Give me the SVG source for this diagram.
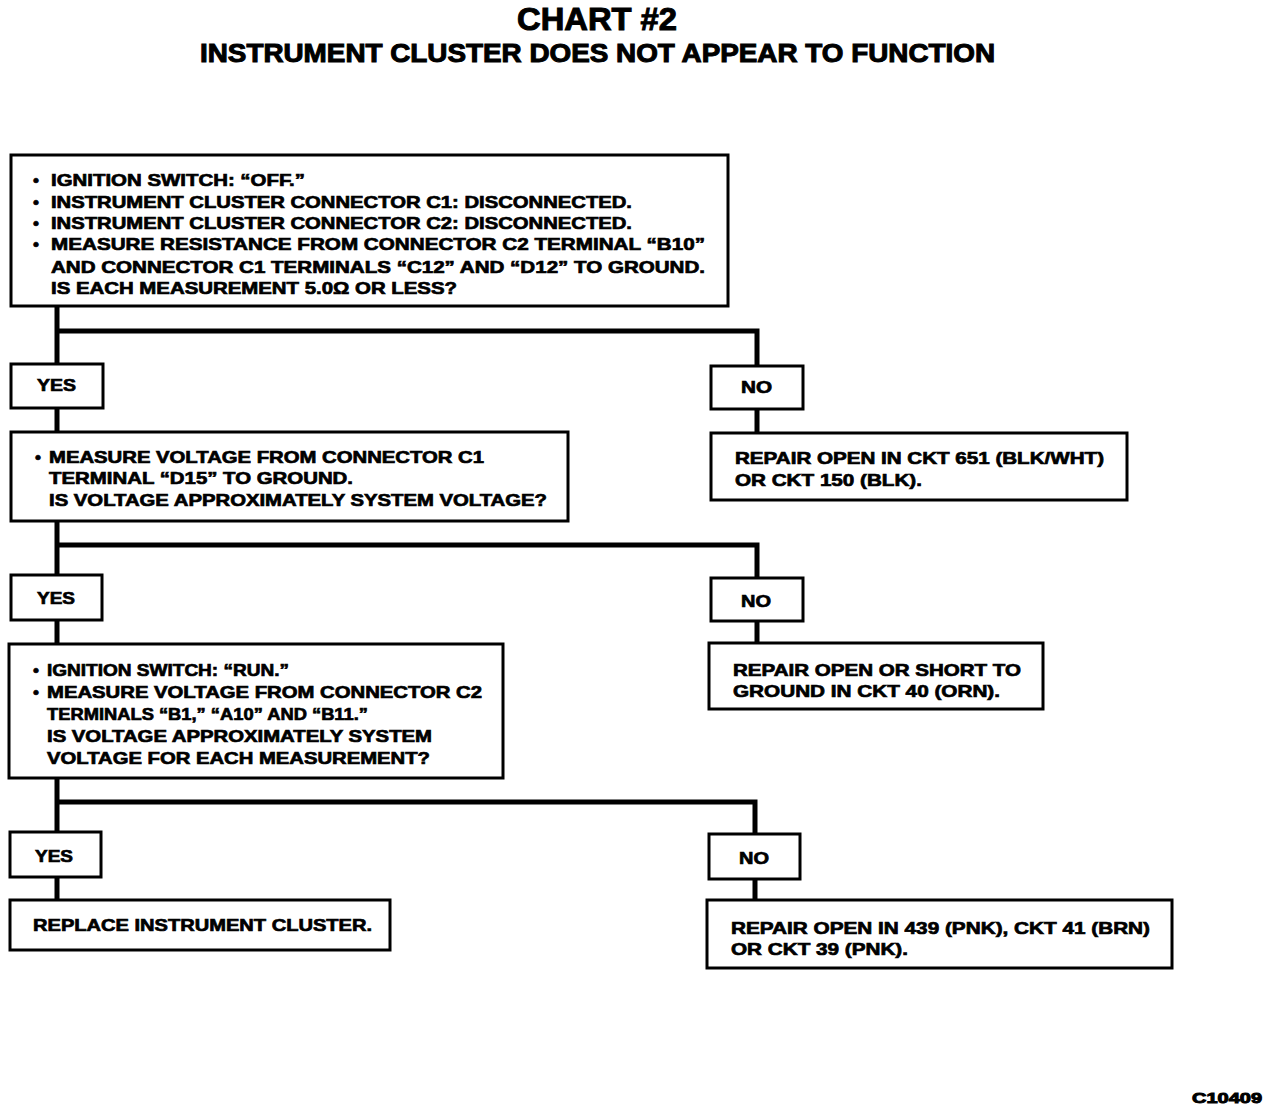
<svg xmlns="http://www.w3.org/2000/svg" width="1280" height="1114" viewBox="0 0 1280 1114">
<style>
.box{fill:#fff;stroke:#000;stroke-width:3}
.t{font-family:"Liberation Sans",Arial,sans-serif;font-weight:bold;font-size:17px;fill:#000;stroke:#000;stroke-width:0.7}
.h{font-family:"Liberation Sans",Arial,sans-serif;font-weight:bold;fill:#000;stroke:#000;stroke-width:1}
.c{fill:none;stroke:#000;stroke-width:5;stroke-linejoin:miter}
</style>
<rect width="1280" height="1114" fill="#fff"/>
<text class="h" x="597" y="30" font-size="31" text-anchor="middle" textLength="160" lengthAdjust="spacingAndGlyphs">CHART #2</text>
<text class="h" x="200" y="62" font-size="25" textLength="795" lengthAdjust="spacingAndGlyphs">INSTRUMENT CLUSTER DOES NOT APPEAR TO FUNCTION</text>

<g id="connectors">
<path class="c" d="M57 306V364M57 331H757V366M57 408V432M757 409V433"/>
<path class="c" d="M57 521V575M57 545H757V578M57 620V644M757 621V643"/>
<path class="c" d="M57 778V832M57 802H755V834M57 877V900M755 879V900"/>
</g>

<g id="box1">
<rect class="box" x="11" y="155" width="717" height="151"/>
<text class="t" x="33" y="186">•</text>
<text class="t" x="51" y="186" textLength="254" lengthAdjust="spacingAndGlyphs">IGNITION SWITCH: “OFF.”</text>
<text class="t" x="33" y="208">•</text>
<text class="t" x="51" y="208" textLength="581" lengthAdjust="spacingAndGlyphs">INSTRUMENT CLUSTER CONNECTOR C1: DISCONNECTED.</text>
<text class="t" x="33" y="229">•</text>
<text class="t" x="51" y="229" textLength="581" lengthAdjust="spacingAndGlyphs">INSTRUMENT CLUSTER CONNECTOR C2: DISCONNECTED.</text>
<text class="t" x="33" y="250">•</text>
<text class="t" x="51" y="250" textLength="654" lengthAdjust="spacingAndGlyphs">MEASURE RESISTANCE FROM CONNECTOR C2 TERMINAL “B10”</text>
<text class="t" x="51" y="273" textLength="654" lengthAdjust="spacingAndGlyphs">AND CONNECTOR C1 TERMINALS “C12” AND “D12” TO GROUND.</text>
<text class="t" x="51" y="294" textLength="406" lengthAdjust="spacingAndGlyphs">IS EACH MEASUREMENT 5.0Ω OR LESS?</text>
</g>

<g id="yes1">
<rect class="box" x="11" y="364" width="92" height="44"/>
<text class="t" x="37" y="391" textLength="39" lengthAdjust="spacingAndGlyphs">YES</text>
</g>
<g id="no1">
<rect class="box" x="711" y="366" width="92" height="43"/>
<text class="t" x="741" y="393" textLength="31" lengthAdjust="spacingAndGlyphs">NO</text>
</g>

<g id="box2">
<rect class="box" x="11" y="432" width="557" height="89"/>
<text class="t" x="35" y="463">•</text>
<text class="t" x="49" y="463" textLength="435" lengthAdjust="spacingAndGlyphs">MEASURE VOLTAGE FROM CONNECTOR C1</text>
<text class="t" x="49" y="484" textLength="304" lengthAdjust="spacingAndGlyphs">TERMINAL “D15” TO GROUND.</text>
<text class="t" x="49" y="506" textLength="498" lengthAdjust="spacingAndGlyphs">IS VOLTAGE APPROXIMATELY SYSTEM VOLTAGE?</text>
</g>

<g id="repair1">
<rect class="box" x="711" y="433" width="416" height="67"/>
<text class="t" x="735" y="464" textLength="369" lengthAdjust="spacingAndGlyphs">REPAIR OPEN IN CKT 651 (BLK/WHT)</text>
<text class="t" x="735" y="486" textLength="187" lengthAdjust="spacingAndGlyphs">OR CKT 150 (BLK).</text>
</g>

<g id="yes2">
<rect class="box" x="11" y="575" width="91" height="45"/>
<text class="t" x="37" y="604" textLength="38" lengthAdjust="spacingAndGlyphs">YES</text>
</g>
<g id="no2">
<rect class="box" x="711" y="578" width="92" height="43"/>
<text class="t" x="741" y="607" textLength="30" lengthAdjust="spacingAndGlyphs">NO</text>
</g>

<g id="box3">
<rect class="box" x="9" y="644" width="494" height="134"/>
<text class="t" x="33" y="676">•</text>
<text class="t" x="47" y="676" textLength="242" lengthAdjust="spacingAndGlyphs">IGNITION SWITCH: “RUN.”</text>
<text class="t" x="33" y="698">•</text>
<text class="t" x="47" y="698" textLength="435" lengthAdjust="spacingAndGlyphs">MEASURE VOLTAGE FROM CONNECTOR C2</text>
<text class="t" x="47" y="720" textLength="321" lengthAdjust="spacingAndGlyphs">TERMINALS “B1,” “A10” AND “B11.”</text>
<text class="t" x="47" y="742" textLength="385" lengthAdjust="spacingAndGlyphs">IS VOLTAGE APPROXIMATELY SYSTEM</text>
<text class="t" x="47" y="764" textLength="383" lengthAdjust="spacingAndGlyphs">VOLTAGE FOR EACH MEASUREMENT?</text>
</g>

<g id="repair2">
<rect class="box" x="709" y="643" width="334" height="66"/>
<text class="t" x="733" y="676" textLength="288" lengthAdjust="spacingAndGlyphs">REPAIR OPEN OR SHORT TO</text>
<text class="t" x="733" y="697" textLength="267" lengthAdjust="spacingAndGlyphs">GROUND IN CKT 40 (ORN).</text>
</g>

<g id="yes3">
<rect class="box" x="10" y="832" width="91" height="45"/>
<text class="t" x="35" y="862" textLength="38" lengthAdjust="spacingAndGlyphs">YES</text>
</g>
<g id="no3">
<rect class="box" x="709" y="834" width="91" height="45"/>
<text class="t" x="739" y="864" textLength="30" lengthAdjust="spacingAndGlyphs">NO</text>
</g>

<g id="replace">
<rect class="box" x="10" y="900" width="380" height="50"/>
<text class="t" x="33" y="931" textLength="339" lengthAdjust="spacingAndGlyphs">REPLACE INSTRUMENT CLUSTER.</text>
</g>

<g id="repair3">
<rect class="box" x="707" y="900" width="465" height="68"/>
<text class="t" x="731" y="934" textLength="419" lengthAdjust="spacingAndGlyphs">REPAIR OPEN IN 439 (PNK), CKT 41 (BRN)</text>
<text class="t" x="731" y="955" textLength="177" lengthAdjust="spacingAndGlyphs">OR CKT 39 (PNK).</text>
</g>

<text class="h" x="1192" y="1103" font-size="15" textLength="70" lengthAdjust="spacingAndGlyphs">C10409</text>
</svg>
